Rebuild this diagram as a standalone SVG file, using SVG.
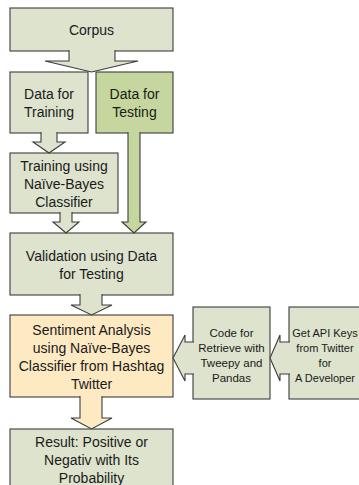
<svg xmlns="http://www.w3.org/2000/svg" width="359" height="485" viewBox="0 0 359 485">
  <style>
    .box { stroke: #3c3c3c; stroke-width: 1.1; }
    .arrow { stroke: #3c3c3c; stroke-width: 1.1; stroke-linejoin: miter; }
    .light { fill: #dde3cd; }
    .green { fill: #c5d79e; }
    .peach { fill: #fde9c2; }
    .t { font-family: "Liberation Sans", Arial, sans-serif; font-size: 14px; fill: #1a1a1a; text-anchor: middle; }
    .s { font-family: "Liberation Sans", Arial, sans-serif; font-size: 11.5px; fill: #1a1a1a; text-anchor: middle; }
    .s2 { font-family: "Liberation Sans", Arial, sans-serif; font-size: 11px; fill: #1a1a1a; text-anchor: middle; }
  </style>
  <rect width="359" height="485" fill="#ffffff"/>

  <g id="nodes">
    <g id="corpus">
      <rect class="box light" x="10" y="8" width="163" height="43"/>
      <text class="t" x="91.5" y="35">Corpus</text>
    </g>
    <g id="data-training">
      <rect class="box light" x="10" y="72" width="78" height="61"/>
      <text class="t" x="49" y="99">Data for</text>
      <text class="t" x="49" y="117">Training</text>
    </g>
    <g id="data-testing">
      <rect class="box green" x="96" y="72" width="77" height="61"/>
      <text class="t" x="134.5" y="99">Data for</text>
      <text class="t" x="134.5" y="117">Testing</text>
    </g>
    <g id="training">
      <rect class="box light" x="10" y="153" width="108" height="60"/>
      <text class="t" x="64" y="171">Training using</text>
      <text class="t" x="64" y="189">Naïve-Bayes</text>
      <text class="t" x="64" y="207">Classifier</text>
    </g>
    <g id="validation">
      <rect class="box light" x="10" y="233" width="163" height="62"/>
      <text class="t" x="91.5" y="261">Validation using Data</text>
      <text class="t" x="91.5" y="279">for Testing</text>
    </g>
    <g id="sentiment">
      <rect class="box peach" x="10" y="315" width="163" height="82"/>
      <text class="t" x="91.5" y="335">Sentiment Analysis</text>
      <text class="t" x="91.5" y="353">using Naïve-Bayes</text>
      <text class="t" x="91.5" y="371">Classifier from Hashtag</text>
      <text class="t" x="91.5" y="389">Twitter</text>
    </g>
    <g id="result">
      <rect class="box light" x="10" y="429" width="163" height="62"/>
      <text class="t" x="91.5" y="447">Result: Positive or</text>
      <text class="t" x="91.5" y="465">Negativ with Its</text>
      <text class="t" x="91.5" y="483">Probability</text>
    </g>
    <g id="code">
      <rect class="box light" x="193" y="307" width="77" height="92"/>
      <text class="s" x="231.5" y="337">Code for</text>
      <text class="s" x="231.5" y="352">Retrieve with</text>
      <text class="s" x="231.5" y="367">Tweepy and</text>
      <text class="s" x="231.5" y="382">Pandas</text>
    </g>
    <g id="api-keys">
      <rect class="box light" x="289" y="307" width="76" height="92"/>
      <text class="s2" x="325" y="337">Get API Keys</text>
      <text class="s2" x="325" y="352">from Twitter</text>
      <text class="s2" x="325" y="367">for</text>
      <text class="s2" x="325" y="382">A Developer</text>
    </g>
  </g>

  <!-- block arrows: open paths so the neck merges into the source box -->
  <g id="connectors">
    <path class="arrow light" d="M69,50 V61 H45 L91.5,72 L138,61 H115 V50"/>
    <path class="arrow light" d="M41,132 V142 H33 L49,153 L65,142 H57 V132"/>
    <path class="arrow green" d="M128,132 V222 H122 L134,233 L146,222 H140 V132"/>
    <path class="arrow light" d="M60,212 V222 H53 L66,233 L79,222 H72 V212"/>
    <path class="arrow light" d="M80,294 V305 H71 L91.5,315 L112,305 H102 V294"/>
    <path class="arrow peach" d="M80,396 V418 H71 L91.5,429 L112,418 H102 V396"/>
    <path class="arrow light" d="M194,342 H185 V335 L173,358 L185,381 V374 H194"/>
    <path class="arrow light" d="M290,342 H280 V335 L270,358 L280,381 V374 H290"/>
  </g>
</svg>
